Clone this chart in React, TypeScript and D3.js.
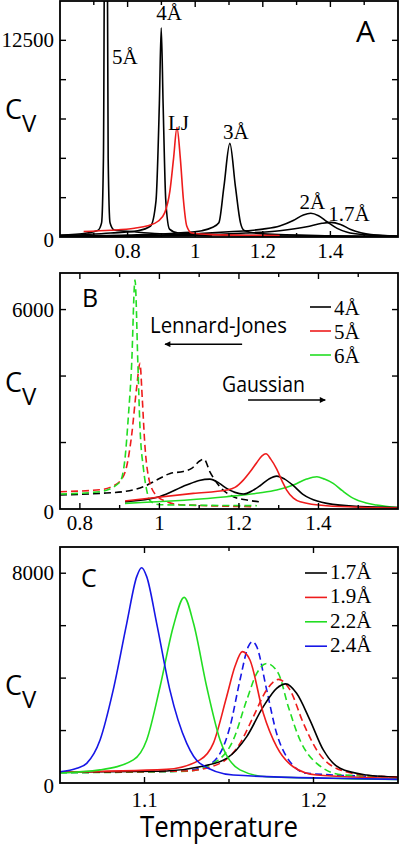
import React from 'react';
import * as d3 from 'd3';

type Pt = [number, number];

const SERIF = "'Liberation Serif', 'Times New Roman', serif";
const SANS = "'Open Sans', 'DejaVu Sans', sans-serif";
const BLACK = '#000000';
const RED = '#ee1c1c';
const GREEN = '#22dd22';
const BLUE = '#1616e6';

// ---------- Panel A : Cv vs temperature, Gaussian cores of several widths + LJ ----------
const A_X_TICKS = [0.8, 1.0, 1.2, 1.4];
const A_X_LABELS = ['0.8', '1', '1.2', '1.4'];
const A_X_MINOR = [0.7, 0.9, 1.1, 1.3, 1.5];
const A_Y_TICKS = [2500, 5000, 7500, 10000, 12500];
const A_Y_LABELS: Pt[] = [[0, 0], [12500, 12500]];

const A_5: Pt[] = [[0.6, 120], [0.68, 250], [0.712, 420], [0.723, 900], [0.7285, 5000], [0.7355, 40000], [0.7425, 5000], [0.748, 900], [0.76, 450], [0.82, 330], [0.88, 220], [0.95, 140], [1.05, 90]];
const A_4: Pt[] = [[0.6, 80], [0.75, 250], [0.83, 400], [0.868, 700], [0.884, 2300], [0.894, 8500], [0.8995, 13300], [0.905, 8500], [0.913, 2300], [0.924, 500], [0.95, 250], [1.1, 120], [1.3, 60], [1.6, 30]];
const A_LJ: Pt[] = [[0.67, 350], [0.75, 430], [0.82, 560], [0.86, 720], [0.89, 1000], [0.91, 1550], [0.925, 2900], [0.936, 5000], [0.946, 6950], [0.956, 5000], [0.965, 2400], [0.975, 700], [0.99, 250], [1.05, 150], [1.15, 110], [1.25, 100]];
const A_3: Pt[] = [[0.6, 60], [0.8, 120], [0.95, 250], [1.02, 400], [1.05, 600], [1.07, 900], [1.085, 3200], [1.1025, 5950], [1.119, 3200], [1.134, 900], [1.145, 420], [1.2, 200], [1.4, 80], [1.6, 30]];
const A_2: Pt[] = [[0.6, 40], [0.9, 100], [1.0, 200], [1.1, 330], [1.2, 500], [1.25, 700], [1.29, 1050], [1.32, 1400], [1.342, 1505], [1.365, 1350], [1.39, 970], [1.42, 550], [1.45, 300], [1.5, 150], [1.6, 60]];
const A_17: Pt[] = [[0.6, 30], [1.0, 120], [1.15, 250], [1.25, 400], [1.33, 650], [1.375, 870], [1.401, 930], [1.43, 800], [1.46, 480], [1.49, 270], [1.52, 150], [1.6, 50]];
const A_PEAK_LABELS = ['5Å', '4Å', 'LJ', '3Å', '2Å', '1.7Å'];
const A_PEAK_POS: Pt[] = [[0.7535, 11000], [0.8845, 13800], [0.9195, 6800], [1.0825, 6200], [1.3085, 1800], [1.3935, 1000]];

// ---------- Panel B : Lennard-Jones (dashed) vs Gaussian (solid) ----------
const B_X_TICKS = [0.8, 1.0, 1.2, 1.4];
const B_X_LABELS = ['0.8', '1', '1.2', '1.4'];
const B_X_MINOR = [0.9, 1.1, 1.3, 1.5];
const B_Y_TICKS = [2000, 4000, 6000];
const B_Y_LABELS: Pt[] = [[0, 0], [6000, 6000]];
const B_LEGEND = ['4Å', '5Å', '6Å'];

const B_LJ_4: Pt[] = [[0.75, 420], [0.85, 470], [0.909, 520], [0.96, 670], [0.993, 870], [1.027, 1070], [1.06, 1130], [1.081, 1220], [1.102, 1450], [1.112, 1500], [1.127, 1120], [1.152, 670], [1.186, 370], [1.22, 270], [1.25, 220]];
const B_LJ_5: Pt[] = [[0.75, 520], [0.85, 580], [0.876, 650], [0.905, 900], [0.918, 1300], [0.93, 2200], [0.943, 3680], [0.951, 4380], [0.957, 3300], [0.963, 2000], [0.972, 1000], [0.989, 450], [1.018, 220], [1.052, 130], [1.24, 70]];
const B_LJ_6: Pt[] = [[0.75, 450], [0.85, 520], [0.9, 800], [0.913, 1470], [0.922, 2800], [0.93, 4300], [0.9386, 6890], [0.946, 4300], [0.951, 2500], [0.96, 1200], [0.968, 570], [0.976, 250], [1.0, 130], [1.245, 100]];
const B_G_4: Pt[] = [[0.9135, 220], [1.0, 370], [1.068, 720], [1.1, 860], [1.127, 900], [1.15, 780], [1.169, 620], [1.19, 500], [1.211, 450], [1.235, 560], [1.253, 700], [1.275, 900], [1.295, 990], [1.315, 900], [1.337, 700], [1.36, 450], [1.379, 320], [1.421, 170], [1.505, 70], [1.6, 40]];
const B_G_5: Pt[] = [[0.9135, 240], [1.085, 470], [1.169, 570], [1.19, 650], [1.211, 870], [1.23, 1150], [1.245, 1400], [1.258, 1600], [1.268, 1660], [1.28, 1500], [1.295, 1200], [1.31, 800], [1.32, 570], [1.337, 330], [1.354, 220], [1.42, 100], [1.6, 30]];
const B_G_6: Pt[] = [[0.9135, 170], [1.169, 370], [1.25, 480], [1.295, 570], [1.337, 720], [1.37, 900], [1.396, 970], [1.415, 900], [1.437, 770], [1.46, 550], [1.488, 320], [1.52, 180], [1.546, 120], [1.6, 40]];
// arrow annotations [T, Cv] start -> end
const B_ARROW_LJ: Pt[] = [[1.208, 4960], [1.014, 4960]];
const B_ARROW_G: Pt[] = [[1.223, 3280], [1.417, 3280]];

// ---------- Panel C : narrow Gaussian cores ----------
const C_X_TICKS = [1.1, 1.2];
const C_X_LABELS = ['1.1', '1.2'];
const C_X_MINOR = [1.15];
const C_Y_TICKS = [2000, 4000, 6000, 8000];
const C_Y_LABELS: Pt[] = [[0, 0], [8000, 8000]];
const C_LEGEND = ['1.7Å', '1.9Å', '2.2Å', '2.4Å'];

const C_17: Pt[] = [[1.05, 420], [1.1131, 460], [1.1328, 620], [1.1486, 940], [1.1605, 1770], [1.1703, 2910], [1.1782, 3610], [1.1836, 3780], [1.19, 3420], [1.1979, 2400], [1.2058, 1260], [1.2157, 560], [1.2315, 305], [1.25, 220]];
const C_19: Pt[] = [[1.05, 420], [1.1131, 520], [1.1328, 880], [1.1407, 1510], [1.1486, 3290], [1.1535, 4440], [1.1579, 5010], [1.1624, 4690], [1.1703, 2660], [1.1782, 1385], [1.188, 620], [1.2019, 305], [1.25, 180]];
const C_22: Pt[] = [[1.05, 380], [1.0737, 500], [1.0934, 880], [1.1013, 1640], [1.1092, 3670], [1.117, 5960], [1.1235, 7080], [1.129, 6090], [1.1368, 3670], [1.1447, 1640], [1.1565, 500], [1.1723, 240], [1.25, 140]];
const C_24: Pt[] = [[1.05, 430], [1.06, 560], [1.0658, 750], [1.0737, 1640], [1.0815, 3550], [1.0895, 6090], [1.0954, 7870], [1.0983, 8210], [1.1013, 7870], [1.1072, 6090], [1.115, 3550], [1.125, 1510], [1.1328, 750], [1.1525, 305], [1.2115, 180], [1.25, 140]];
const C_19_D: Pt[] = [[1.05, 410], [1.125, 460], [1.1447, 750], [1.1565, 1510], [1.1644, 2530], [1.1723, 3550], [1.1792, 3950], [1.1861, 3550], [1.194, 2280], [1.2019, 1260], [1.2117, 620], [1.2295, 305], [1.25, 230]];
const C_22_D: Pt[] = [[1.05, 390], [1.125, 450], [1.1407, 750], [1.1525, 1640], [1.1605, 3165], [1.1664, 4180], [1.1723, 4560], [1.1792, 4180], [1.1851, 2910], [1.192, 1640], [1.2019, 750], [1.2176, 305], [1.25, 230]];
const C_24_D: Pt[] = [[1.05, 400], [1.12, 450], [1.135, 600], [1.1447, 1130], [1.1506, 2150], [1.1565, 3930], [1.1614, 5200], [1.1638, 5390], [1.1664, 5200], [1.1723, 3550], [1.1782, 1890], [1.1841, 1000], [1.196, 370], [1.25, 230]];

interface Series { data: Pt[]; color: string; dashed?: boolean }

interface PanelProps {
  id: string;
  top: number;
  bottom: number;
  xDomain: [number, number];
  yDomain: [number, number];
  xTicks: number[];
  xLabels: string[];
  xMinor: number[];
  xLabelOffset: number;
  yTicks: number[];
  yLabels: Pt[];
  series: Series[];
  letter: string;
  letterX: number;
  letterY: number;
  letterSize: number;
  cvY: number;
  children?: (x: d3.ScaleLinear<number, number>, y: d3.ScaleLinear<number, number>) => React.ReactNode;
}

const LEFT = 60;
const RIGHT = 398;

function Panel(p: PanelProps) {
  const x = d3.scaleLinear().domain(p.xDomain).range([LEFT, RIGHT]);
  const y = d3.scaleLinear().domain(p.yDomain).range([p.bottom, p.top]);
  const line = d3.line<Pt>().x(d => x(d[0])).y(d => y(d[1])).curve(d3.curveMonotoneX);
  const clip = `clip-${p.id}`;
  const MAJ = 6, MIN = 4;
  return (
    <g>
      <defs>
        <clipPath id={clip}>
          <rect x={LEFT} y={p.top} width={RIGHT - LEFT} height={p.bottom - p.top} />
        </clipPath>
      </defs>
      <g clipPath={`url(#${clip})`}>
        {p.series.map((s, i) => (
          <path key={i} d={line(s.data) || ''} fill="none" stroke={s.color} strokeWidth={1.6}
            strokeDasharray={s.dashed ? '7,4' : undefined} strokeLinejoin="round" />
        ))}
      </g>
      <rect x={LEFT} y={p.top} width={RIGHT - LEFT} height={p.bottom - p.top} fill="none" stroke="#000" strokeWidth={1.8} />
      {p.xTicks.map((t, i) => (
        <g key={'xt' + i}>
          <line x1={x(t)} x2={x(t)} y1={p.bottom} y2={p.bottom - MAJ} stroke="#000" strokeWidth={1.4} />
          <line x1={x(t)} x2={x(t)} y1={p.top} y2={p.top + MAJ} stroke="#000" strokeWidth={1.4} />
          <text x={x(t)} y={p.bottom + p.xLabelOffset} textAnchor="middle" fontFamily={SERIF} fontSize={21}>{p.xLabels[i]}</text>
        </g>
      ))}
      {p.xMinor.map((t, i) => (
        <g key={'xm' + i}>
          <line x1={x(t)} x2={x(t)} y1={p.bottom} y2={p.bottom - MIN} stroke="#000" strokeWidth={1.4} />
          <line x1={x(t)} x2={x(t)} y1={p.top} y2={p.top + MIN} stroke="#000" strokeWidth={1.4} />
        </g>
      ))}
      {p.yTicks.map((t, i) => (
        <g key={'yt' + i}>
          <line x1={LEFT} x2={LEFT + MAJ} y1={y(t)} y2={y(t)} stroke="#000" strokeWidth={1.4} />
          <line x1={RIGHT} x2={RIGHT - MAJ} y1={y(t)} y2={y(t)} stroke="#000" strokeWidth={1.4} />
        </g>
      ))}
      {p.yLabels.map((l, i) => (
        <text key={'yl' + i} x={54} y={y(l[0]) + (l[0] === 0 ? 10 : 7)} textAnchor="end" fontFamily={SERIF} fontSize={21}>{String(l[1])}</text>
      ))}
      <text x={5} y={p.cvY} fontFamily={SANS} fontSize={27}>C</text>
      <text x={22} y={p.cvY + 13} fontFamily={SANS} fontSize={24}>V</text>
      <text x={p.letterX} y={p.letterY} fontFamily={SANS} fontSize={p.letterSize}>{p.letter}</text>
      {p.children ? p.children(x, y) : null}
    </g>
  );
}

export default function App() {
  const bColors = [BLACK, RED, GREEN];
  const cColors = [BLACK, RED, GREEN, BLUE];
  return (
    <div style={{ position: 'absolute', left: 0, top: 0, background: '#fff' }}>
      <svg width={400} height={850} viewBox="0 0 400 850" style={{ display: 'block' }}>
        <defs>
          <marker id="ahead" viewBox="0 0 10 10" refX="9" refY="5" markerWidth="7" markerHeight="6" orient="auto" markerUnits="userSpaceOnUse">
            <path d="M0,0 L10,5 L0,10 z" fill="#000" />
          </marker>
        </defs>
        <rect x={0} y={0} width={400} height={850} fill="#fff" />

        <Panel id="A" top={1} bottom={237} xDomain={[0.6, 1.6]} yDomain={[0, 15000]}
          xTicks={A_X_TICKS} xLabels={A_X_LABELS} xMinor={A_X_MINOR} xLabelOffset={21} yTicks={A_Y_TICKS} yLabels={A_Y_LABELS}
          series={[
            { data: A_17, color: BLACK }, { data: A_2, color: BLACK }, { data: A_3, color: BLACK },
            { data: A_5, color: BLACK }, { data: A_4, color: BLACK }, { data: A_LJ, color: RED },
          ]}
          letter="A" letterX={356} letterY={42} letterSize={30} cvY={119}>
          {(x, y) => A_PEAK_LABELS.map((l, i) => (
            <text key={i} x={x(A_PEAK_POS[i][0])} y={y(A_PEAK_POS[i][1])} fontFamily={SERIF} fontSize={21}>{l}</text>
          ))}
        </Panel>

        <Panel id="B" top={273} bottom={509} xDomain={[0.75, 1.6]} yDomain={[0, 7100]}
          xTicks={B_X_TICKS} xLabels={B_X_LABELS} xMinor={B_X_MINOR} xLabelOffset={21} yTicks={B_Y_TICKS} yLabels={B_Y_LABELS}
          series={[
            { data: B_LJ_4, color: BLACK, dashed: true }, { data: B_LJ_5, color: RED, dashed: true }, { data: B_LJ_6, color: GREEN, dashed: true },
            { data: B_G_6, color: GREEN }, { data: B_G_4, color: BLACK }, { data: B_G_5, color: RED },
          ]}
          letter="B" letterX={82} letterY={307} letterSize={25} cvY={392}>
          {(x, y) => (
            <g>
              {B_LEGEND.map((l, i) => (
                <g key={i}>
                  <line x1={310} x2={331} y1={307 + i * 24} y2={307 + i * 24} stroke={bColors[i]} strokeWidth={1.6} />
                  <text x={334} y={315 + i * 24} fontFamily={SERIF} fontSize={21}>{l}</text>
                </g>
              ))}
              <text x={150} y={333} fontFamily={SANS} fontSize={21} textLength={137} lengthAdjust="spacingAndGlyphs">Lennard-Jones</text>
              <line x1={x(B_ARROW_LJ[0][0])} x2={x(B_ARROW_LJ[1][0])} y1={y(B_ARROW_LJ[0][1])} y2={y(B_ARROW_LJ[1][1])} stroke="#000" strokeWidth={1.5} markerEnd="url(#ahead)" />
              <text x={222} y={392} fontFamily={SANS} fontSize={21} textLength={83} lengthAdjust="spacingAndGlyphs">Gaussian</text>
              <line x1={x(B_ARROW_G[0][0])} x2={x(B_ARROW_G[1][0])} y1={y(B_ARROW_G[0][1])} y2={y(B_ARROW_G[1][1])} stroke="#000" strokeWidth={1.5} markerEnd="url(#ahead)" />
            </g>
          )}
        </Panel>

        <Panel id="C" top={547} bottom={783} xDomain={[1.05, 1.25]} yDomain={[0, 9000]}
          xTicks={C_X_TICKS} xLabels={C_X_LABELS} xMinor={C_X_MINOR} xLabelOffset={24} yTicks={C_Y_TICKS} yLabels={C_Y_LABELS}
          series={[
            { data: C_24_D, color: BLUE, dashed: true }, { data: C_22_D, color: GREEN, dashed: true }, { data: C_19_D, color: RED, dashed: true },
            { data: C_17, color: BLACK }, { data: C_19, color: RED }, { data: C_22, color: GREEN }, { data: C_24, color: BLUE },
          ]}
          letter="C" letterX={81} letterY={587} letterSize={25} cvY={695}>
          {() => (
            <g>
              {C_LEGEND.map((l, i) => (
                <g key={i}>
                  <line x1={305} x2={327} y1={573 + i * 24.4} y2={573 + i * 24.4} stroke={cColors[i]} strokeWidth={1.6} />
                  <text x={330} y={579 + i * 24.4} fontFamily={SERIF} fontSize={21}>{l}</text>
                </g>
              ))}
            </g>
          )}
        </Panel>

        <text x={140} y={837} fontFamily={SANS} fontSize={30} textLength={158} lengthAdjust="spacingAndGlyphs">Temperature</text>
      </svg>
    </div>
  );
}
